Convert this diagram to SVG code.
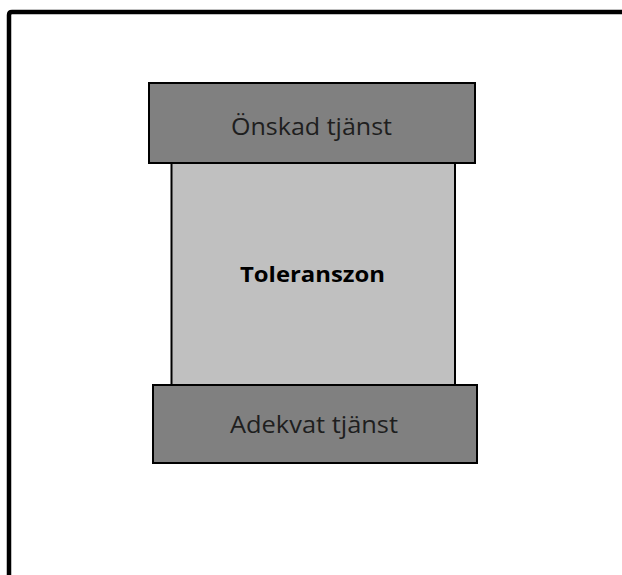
<svg xmlns="http://www.w3.org/2000/svg" width="622" height="575" viewBox="0 0 622 575">
  <style>
    .band { fill: #808080; stroke: #000; stroke-width: 2; }
    .zone { fill: #c0c0c0; stroke: #000; stroke-width: 2; }
    .lbl { font-family: "Open Sans", "Liberation Sans", sans-serif; font-size: 23px; fill: #1e1e1e; text-anchor: middle; }
    .lbl-b { font-family: "Open Sans", "Liberation Sans", sans-serif; font-size: 22px; font-weight: bold; fill: #000; text-anchor: middle; }
  </style>
  <rect x="0" y="0" width="622" height="575" fill="#fff"/>
  <!-- open frame: left and top edges only -->
  <path d="M9,580 L9,15 Q9,12 12,12 L630,12" fill="none" stroke="#000" stroke-width="4.5"/>
  <g id="toleranszon">
    <rect class="zone" x="171.5" y="155" width="283.5" height="238"/>
    <text class="lbl-b" x="312.5" y="282" textLength="145" lengthAdjust="spacingAndGlyphs">Toleranszon</text>
  </g>
  <g id="onskad">
    <rect class="band" x="149" y="83" width="326" height="80"/>
    <text class="lbl" x="311.5" y="135" textLength="161" lengthAdjust="spacingAndGlyphs">Önskad tjänst</text>
  </g>
  <g id="adekvat">
    <rect class="band" x="153" y="385" width="324" height="78"/>
    <text class="lbl" x="314" y="433" textLength="168" lengthAdjust="spacingAndGlyphs">Adekvat tjänst</text>
  </g>
  <g id="connectors"/>
</svg>
